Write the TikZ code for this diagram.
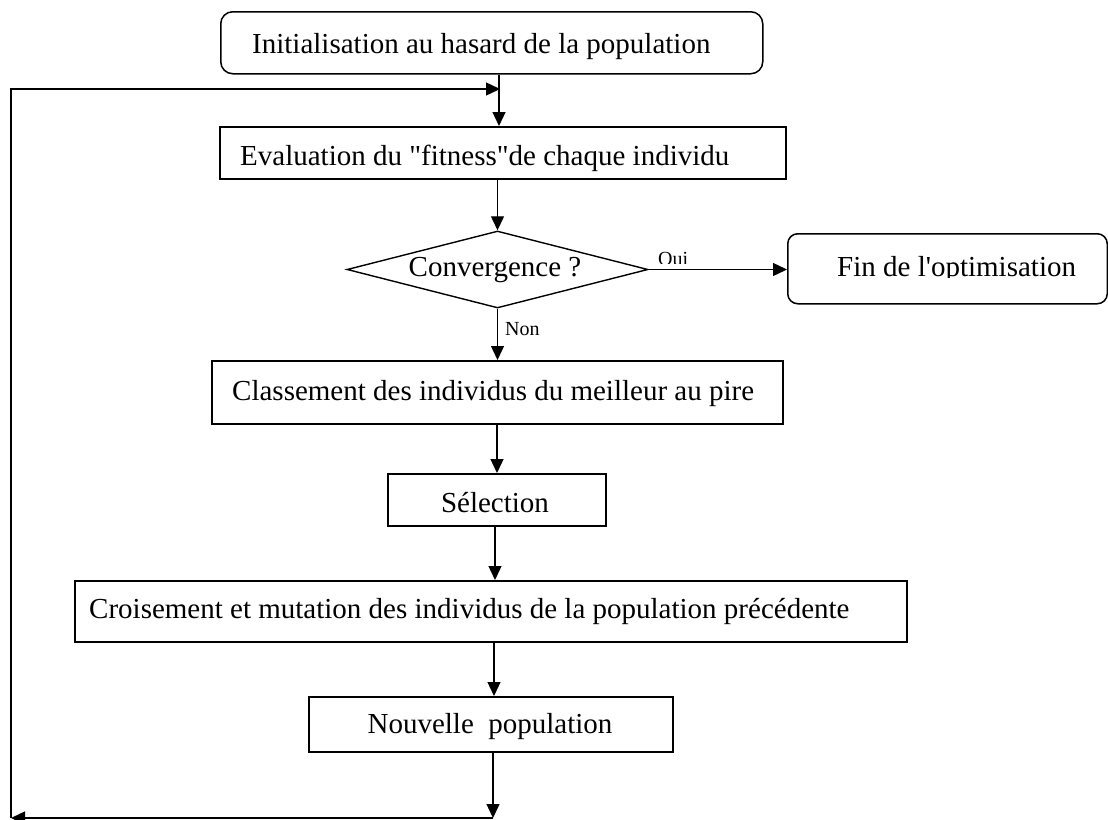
\documentclass[tikz,border=0pt]{standalone}
\usepackage{fontspec}
\newfontfamily\mf{Liberation Serif}
\usetikzlibrary{arrows.meta,shapes.geometric}
\begin{document}
\begin{tikzpicture}[x=1pt,y=-1pt,
  bigfont/.style={font=\mf\fontsize{29}{34}\selectfont},
  smallfont/.style={font=\mf\fontsize{20}{24}\selectfont},
  box/.style={draw, line width=1.5pt, rectangle, inner sep=0pt, anchor=north west},
  rbox/.style={box, rounded corners=#1},
  txt/.style={bigfont, inner sep=0pt},
  lbl/.style={smallfont, inner sep=0pt, anchor=base west},
  conn/.style={line width=1.3pt, -{Triangle[length=14pt,width=13pt]}},
]
\useasboundingbox (0,0) rectangle (1108,819);
\fill[white] (0,0) rectangle (1108,819);

% boxes
\node[rbox=12pt, minimum width=542pt, minimum height=62pt] (top) at (220,11) {};
\node[box, minimum width=566pt, minimum height=52pt] (eval) at (219,126) {};
\node[draw, diamond, line width=1.4pt, minimum width=301pt, minimum height=77pt, inner sep=0pt] (conv) at (497.5,269.5) {};
\node[rbox=10pt, minimum width=319.5pt, minimum height=70pt] (fin) at (787,233) {};
\node[box, minimum width=571pt, minimum height=63pt] (cls) at (211,360) {};
\node[box, minimum width=218pt, minimum height=52pt] (sel) at (387,473) {};
\node[box, minimum width=832pt, minimum height=61pt] (cro) at (74,580) {};
\node[box, minimum width=364pt, minimum height=55pt] (nou) at (308,696) {};

% texts
\node[txt, anchor=base west] (topt) at (252,53) {Initialisation au hasard de la population};
\node[txt, anchor=base west] (evalt) at (240,165) {Evaluation du "fitness"de chaque individu};
\node[txt, anchor=base] (convt) at (495,276) {Convergence ?};
\begin{scope}
  \clip (790,236) rectangle (1104,277.5);
  \node[txt, anchor=base west] (fint) at (837,276) {Fin de l'optimisation};
\end{scope}
\node[txt, anchor=base west] (clst) at (232,400) {Classement des individus du meilleur au pire};
\node[txt, anchor=base] (selt) at (495,512) {Sélection};
\node[txt, anchor=base west] (crot) at (89,618) {Croisement et mutation des individus de la population précédente};
\node[txt, anchor=base] (nout) at (490,733) {Nouvelle~ population};

\begin{scope}
  \clip (650,240) rectangle (700,263.5);
  \node[lbl] (oui) at (658,265) {Oui};
\end{scope}
\node[lbl] (non) at (505,335) {Non};

% helper coordinates
\coordinate (xa) at (499,0);
\coordinate (xc) at (497,0);
\coordinate (xd) at (495,0);
\coordinate (xe) at (494,0);
\coordinate (bm) at (493,818);
\coordinate (bl) at (11,818);
\coordinate (tl) at (11,89);
\coordinate (jn) at (500,89);

% connectors
\draw[conn] (top.south -| xa) -- (eval.north -| xa);
\draw[conn] (eval.south -| conv.north) -- (conv.north);
\draw[conn] (conv.east) -- (fin.west |- conv.east);
\draw[conn] (conv.south) -- (cls.north -| conv.south);
\draw[conn] (cls.south -| xc) -- (sel.north -| xc);
\draw[conn] (sel.south -| xd) -- (cro.north -| xd);
\draw[conn] (cro.south -| xe) -- (nou.north -| xe);
\draw[conn] (nou.south -| bm) -- (bm);
\draw[conn] (bm) -- (bl);
\draw[conn] (bl) -- (tl) -- (jn);
\end{tikzpicture}
\end{document}
